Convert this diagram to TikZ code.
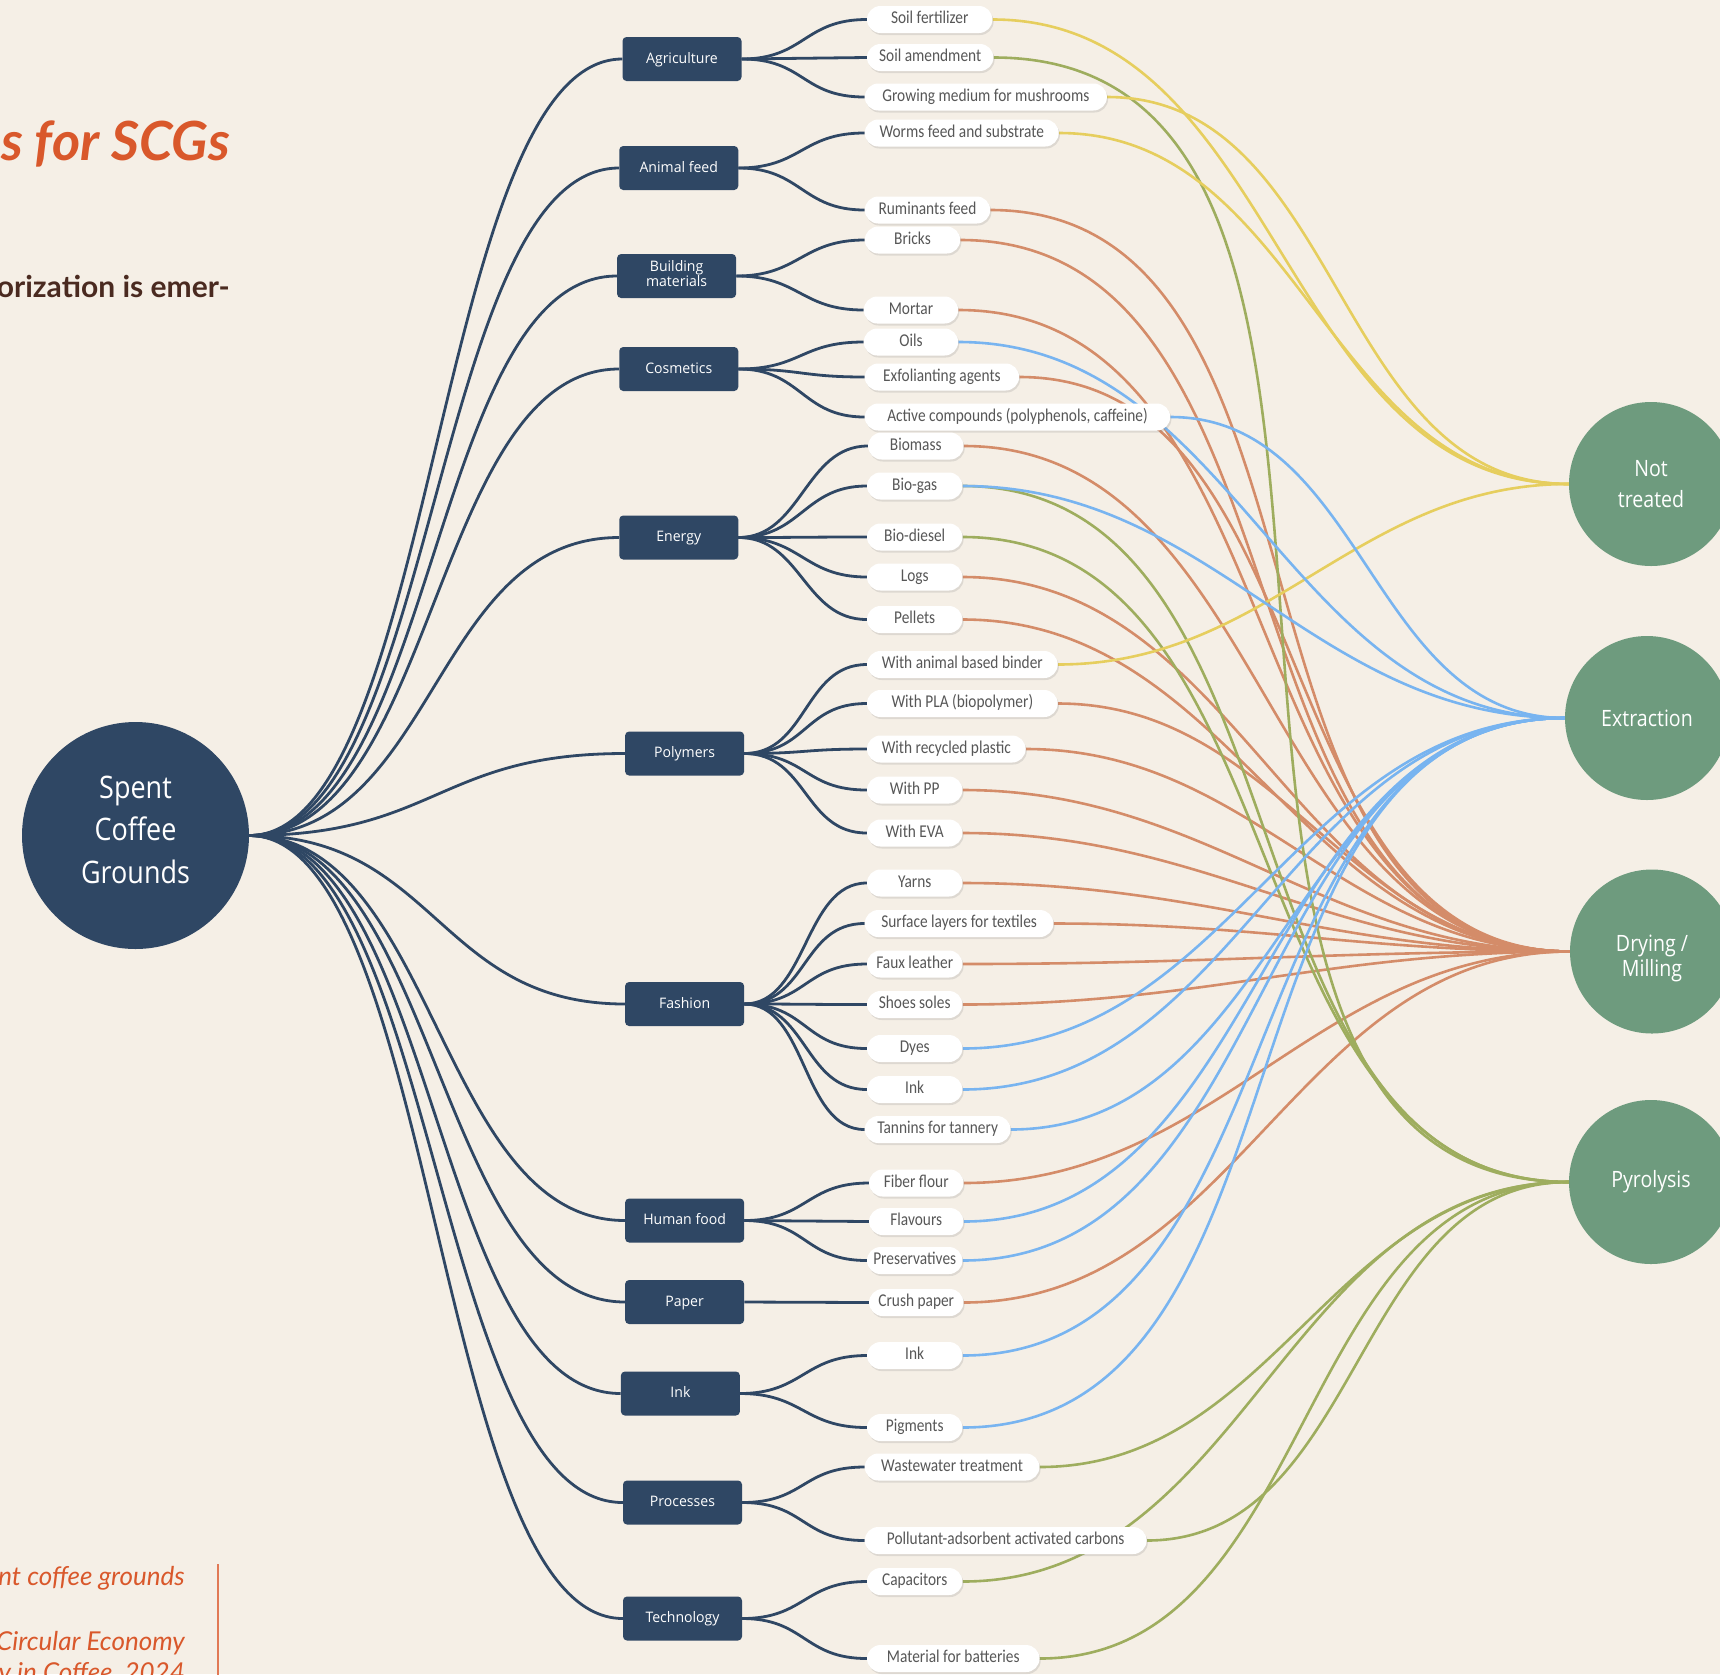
\documentclass[tikz,border=0pt]{standalone}
\usepackage{fontspec}
\usetikzlibrary{shadows,calc}
\newfontfamily\leaffont[FakeStretch=0.854]{Carlito}
\newfontfamily\boxfont[FakeStretch=0.97]{Open Sans}
\newfontfamily\circfont[FakeStretch=0.87]{Open Sans}
\newfontfamily\latofont{Lato}
\definecolor{bgc}{HTML}{F5EFE6}
\definecolor{navy}{HTML}{2F4764}
\definecolor{sage}{HTML}{6E9B7E}
\definecolor{cyel}{HTML}{E6CE5E}
\definecolor{cgrn}{HTML}{9EAD5E}
\definecolor{corg}{HTML}{D48C69}
\definecolor{cblu}{HTML}{78B4F0}
\definecolor{titleorg}{HTML}{D9582B}
\definecolor{darkbrown}{HTML}{4A2A20}
\definecolor{leaftxt}{HTML}{575757}
\pgfdeclarelayer{bgfill}
\pgfdeclarelayer{links}
\pgfsetlayers{bgfill,links,main}
\begin{document}
\begin{tikzpicture}[x=1pt,y=-1pt,
 cat/.style={fill=navy, rounded corners=4pt, minimum width=119pt, minimum height=44pt, inner sep=0pt, text=white, font=\boxfont\fontsize{14.5}{13.5}\selectfont, text height=11pt, text depth=2.5pt},
 leaf/.style={fill=white, rounded corners=13.5pt, minimum height=27pt, inner sep=0pt, anchor=west, text=leaftxt, font=\leaffont\fontsize{18}{20}\selectfont, text height=11pt, text depth=3pt, drop shadow={shadow xshift=1.2pt, shadow yshift=-2pt, opacity=0.2}},
 proc/.style={circle, fill=sage, minimum size=164pt, inner sep=0pt, text=white, align=center, font=\circfont\fontsize{22.5}{31}\selectfont},
 trunk/.style={draw=navy, line width=2.8pt},
 lnk/.style={line width=2.6pt},
 plain/.style={inner sep=0pt, anchor=base east},
 proclink/.style={to path={let \p1=(\tikztostart), \p2=(\tikztotarget), \n1={39.15*veclen((\x2-\x1)/100,(\y2-\y1)/100)} in .. controls ({\x1+\n1},\y1) and ({\x2-\n1},\y2) .. (\tikztotarget)}},
]
\useasboundingbox (0,0) rectangle (1720,1674);
\begin{pgfonlayer}{bgfill}
\fill[bgc] (0,0) rectangle (1720,1674);
\end{pgfonlayer}
\clip (0,0) rectangle (1720,1674);

% left texts
\node[plain, text=titleorg, font=\latofont\bfseries\itshape\fontsize{54}{60}\selectfont] (title) at (230,160) {s for SCGs};
\node[plain, text=darkbrown, font=\latofont\bfseries\fontsize{30}{36}\selectfont] (sub) at (230,297) {orization is emer-};
\node[plain, text=titleorg, font=\latofont\itshape\fontsize{26}{31}\selectfont] (ref1) at (185,1585) {nt coffee grounds};
\node[plain, text=titleorg, font=\latofont\itshape\fontsize{26}{31}\selectfont] (ref2) at (185,1650) {Circular Economy};
\node[plain, text=titleorg, font=\latofont\itshape\fontsize{26}{31}\selectfont] (ref3) at (185,1681) {y in Coffee, 2024};
\coordinate (rulea) at (218,1564);
\coordinate (ruleb) at (218,1680);
\draw[line width=2pt, draw=titleorg!80] (rulea) -- (ruleb);

% central circle
\node[circle, fill=navy, minimum size=227pt, inner sep=0pt] (scg) at (135.5,835.5) {};
\node[inner sep=0pt, text=white, align=center, font=\circfont\fontsize{31}{42.5}\selectfont] (scgtxt) at (135.5,829.5) {Spent\\Coffee\\Grounds};

% categories
\node[cat] (agri) at (682,59) {Agriculture};
\node[cat] (anim) at (678.75,168) {Animal feed};
\node[cat] (bmat) at (676.6,276) {};
\node[inner sep=0pt, text=white, align=center, font=\boxfont\fontsize{14.5}{13.5}\selectfont, yshift=2.6pt] (bmattxt) at (676.6,276) {Building\\materials};
\node[cat] (cosm) at (678.75,369) {Cosmetics};
\node[cat] (ener) at (678.75,537.5) {Energy};
\node[cat] (poly) at (684.6,753.5) {Polymers};
\node[cat] (fash) at (684.6,1004) {Fashion};
\node[cat] (hfood) at (684.6,1220.5) {Human food};
\node[cat] (paper) at (684.6,1302) {Paper};
\node[cat] (inkc) at (680.4,1393.5) {Ink};
\node[cat] (procs) at (682.5,1502.5) {Processes};
\node[cat] (tech) at (682.5,1618.5) {Technology};

% leaves
\node[leaf, minimum width=125.4pt] (sf) at (866.8,19.5) {Soil fertilizer};
\node[leaf, minimum width=126.4pt] (sa) at (866.8,57.5) {Soil amendment};
\node[leaf, minimum width=242.1pt] (gm) at (864.6,97) {Growing medium for mushrooms};
\node[leaf, minimum width=193.9pt] (wf) at (864.6,133) {Worms feed and substrate};
\node[leaf, minimum width=125.4pt] (rf) at (864.6,210) {Ruminants feed};
\node[leaf, minimum width=95.4pt] (br) at (864.6,240) {Bricks};
\node[leaf, minimum width=94.3pt] (mo) at (863.6,310) {Mortar};
\node[leaf, minimum width=94.3pt] (oi) at (863.6,342) {Oils};
\node[leaf, minimum width=154.3pt] (exf) at (864.6,377) {Exfolianting agents};
\node[leaf, minimum width=305.4pt] (ac) at (864.6,417) {Active compounds (polyphenols, caffeine)};
\node[leaf, minimum width=95.4pt] (bm) at (867.9,446) {Biomass};
\node[leaf, minimum width=95.4pt] (bg) at (866.8,486) {Bio-gas};
\node[leaf, minimum width=95.4pt] (bd) at (866.8,537) {Bio-diesel};
\node[leaf, minimum width=95.4pt] (lo) at (866.8,577) {Logs};
\node[leaf, minimum width=95.4pt] (pe) at (866.8,619.5) {Pellets};
\node[leaf, minimum width=190.7pt] (ab) at (866.8,664.5) {With animal based binder};
\node[leaf, minimum width=190.7pt] (pla) at (866.8,703.5) {With PLA (biopolymer)};
\node[leaf, minimum width=158.6pt] (rp) at (866.8,749) {With recycled plastic};
\node[leaf, minimum width=95.4pt] (pp) at (866.8,790) {With PP};
\node[leaf, minimum width=95.4pt] (eva) at (866.8,833) {With EVA};
\node[leaf, minimum width=95.4pt] (ya) at (866.8,883) {Yarns};
\node[leaf, minimum width=188.6pt] (sl) at (864.6,923.5) {Surface layers for textiles};
\node[leaf, minimum width=95.4pt] (fl) at (866.8,964) {Faux leather};
\node[leaf, minimum width=95.4pt] (ss) at (866.8,1004.5) {Shoes soles};
\node[leaf, minimum width=95.4pt] (dy) at (866.8,1048.5) {Dyes};
\node[leaf, minimum width=95.4pt] (inka) at (866.8,1089.5) {Ink};
\node[leaf, minimum width=145.7pt] (ta) at (864.6,1129.5) {Tannins for tannery};
\node[leaf, minimum width=94.3pt] (ff) at (868.9,1183) {Fiber flour};
\node[leaf, minimum width=94.3pt] (fv) at (868.9,1221.5) {Flavours};
\node[leaf, minimum width=95.4pt] (pr) at (866.8,1260.5) {Preservatives};
\node[leaf, minimum width=94.3pt] (cp) at (868.9,1302.5) {Crush paper};
\node[leaf, minimum width=95.4pt] (inkb) at (866.8,1355.5) {Ink};
\node[leaf, minimum width=95.4pt] (pg) at (866.8,1427.5) {Pigments};
\node[leaf, minimum width=174.6pt] (ww) at (864.6,1467) {Wastewater treatment};
\node[leaf, minimum width=281.8pt] (pa) at (864.6,1540.5) {Pollutant-adsorbent activated carbons};
\node[leaf, minimum width=95.4pt] (ca) at (866.8,1581.5) {Capacitors};
\node[leaf, minimum width=172.5pt] (mb) at (866.8,1658.5) {Material for batteries};

% process circles
\node[proc] (pNT) at (1651,484) {Not\\treated};
\node[proc] (pEX) at (1647,718) {Extraction};
\node[proc] (pDM) at (1652,951.5) {};
\node[inner sep=0pt, text=white, align=center, font=\circfont\fontsize{22.5}{25}\selectfont] (pDMtxt) at (1652,958) {Drying /\\Milling};
\node[proc] (pPY) at (1651,1182) {Pyrolysis};

\begin{pgfonlayer}{links}
\foreach \c in {agri,anim,bmat,cosm,ener,poly,fash,hfood,paper,inkc,procs,tech}
  \draw[trunk] (scg.east) .. controls +(187,0) and +(-187,0) .. (\c.west);
\foreach \c/\l in {agri/sf,agri/sa,agri/gm,anim/wf,anim/rf,bmat/br,bmat/mo,cosm/oi,cosm/exf,cosm/ac,
  ener/bm,ener/bg,ener/bd,ener/lo,ener/pe,poly/ab,poly/pla,poly/rp,poly/pp,poly/eva,
  fash/ya,fash/sl,fash/fl,fash/ss,fash/dy,fash/inka,fash/ta,hfood/ff,hfood/fv,hfood/pr,
  paper/cp,inkc/inkb,inkc/pg,procs/ww,procs/pa,tech/ca,tech/mb}
  \draw[trunk] (\c.east) .. controls +(63,0) and +(-63,0) .. (\l.west);
\foreach \l in {rf,br,mo,exf,bm,lo,pe,pla,rp,pp,eva,ya,sl,fl,ss,ff,cp}
  \draw[lnk, draw=corg] (\l.east) to[proclink] (pDM.west);
\foreach \l in {sa,bg,bd,ww,pa,ca,mb}
  \draw[lnk, draw=cgrn] (\l.east) to[proclink] (pPY.west);
\foreach \l in {sf,gm,wf,ab}
  \draw[lnk, draw=cyel] (\l.east) to[proclink] (pNT.west);
\foreach \l in {oi,ac,bg,dy,inka,ta,fv,pr,inkb,pg}
  \draw[lnk, draw=cblu] (\l.east) to[proclink] (pEX.west);
\end{pgfonlayer}
\end{tikzpicture}
\end{document}
